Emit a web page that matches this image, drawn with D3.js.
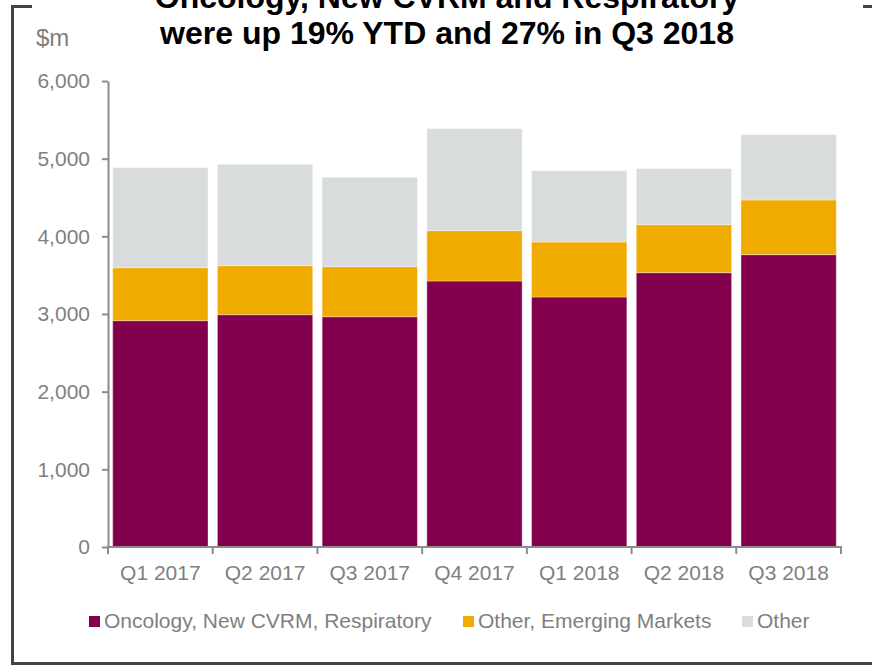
<!DOCTYPE html>
<html>
<head>
<meta charset="utf-8">
<script src="https://cdn.jsdelivr.net/npm/d3@7"></script>
<style>
  html, body { margin: 0; padding: 0; background: #fff; }
  svg { display: block; font-family: "Liberation Sans", Arial, sans-serif; }
</style>
</head>
<body>
<svg id="chart" width="872" height="665"></svg>
<script>
// Quarterly sales ($m), stacked by group
const quarters = ["Q1 2017", "Q2 2017", "Q3 2017", "Q4 2017", "Q1 2018", "Q2 2018", "Q3 2018"];
const oncologyCvrmResp = [2914, 2991, 2965, 3425, 3219, 3532, 3764];
const otherEmerging    = [682, 631, 644, 648, 708, 618, 704];
const otherSales       = [1288, 1305, 1151, 1313, 918, 721, 841];
const yTicks = [0, 1000, 2000, 3000, 4000, 5000, 6000];

const seriesNames = ["Oncology, New CVRM, Respiratory", "Other, Emerging Markets", "Other"];
const seriesColors = ["#82004e", "#f0ab00", "#d8dcdd"];

const titleLines = ["Oncology, New CVRM and Respiratory", "were up 19% YTD and 27% in Q3 2018"];

const svg = d3.select("#chart");
const textGrey = "#7f7f7f";
const axisGrey = "#8c8c8c";
const frameColor = "#3d4443";

// Table rows for the stack layout
const rows = quarters.map((q, i) => ({
  quarter: q,
  s0: oncologyCvrmResp[i],
  s1: otherEmerging[i],
  s2: otherSales[i]
}));
const stack = d3.stack().keys(["s0", "s1", "s2"]);
const layers = stack(rows);

const x = d3.scaleBand()
  .domain(quarters)
  .range([108, 841])
  .paddingInner(0.09)
  .paddingOuter(0.045);

const y = d3.scaleLinear().domain([0, 6000]).range([547, 81]);

// Outer frame
svg.append("rect").attr("x", 11).attr("y", 5).attr("width", 3).attr("height", 660).attr("fill", frameColor);
svg.append("rect").attr("x", 11).attr("y", 5).attr("width", 21).attr("height", 3).attr("fill", frameColor);
svg.append("rect").attr("x", 863).attr("y", 5).attr("width", 9).attr("height", 3).attr("fill", frameColor);
svg.append("rect").attr("x", 11).attr("y", 662).attr("width", 861).attr("height", 3).attr("fill", frameColor);

// Title
const title = svg.append("text")
  .attr("text-anchor", "middle")
  .attr("font-weight", "bold")
  .attr("font-size", 32)
  .attr("fill", "#000");
title.selectAll("tspan")
  .data(titleLines)
  .join("tspan")
  .attr("x", 447)
  .attr("y", (d, i) => 8 + i * 36)
  .text(d => d);

// Unit label
svg.append("text")
  .attr("x", 36).attr("y", 46)
  .attr("font-size", 24)
  .attr("fill", textGrey)
  .text("$m");

// Bars
svg.append("g")
  .selectAll("g")
  .data(layers)
  .join("g")
  .attr("fill", (d, i) => seriesColors[i])
  .selectAll("rect")
  .data(d => d)
  .join("rect")
  .attr("x", d => x(d.data.quarter))
  .attr("width", x.bandwidth())
  .attr("y", d => y(d[1]))
  .attr("height", d => y(d[0]) - y(d[1]))
  .attr("stroke", "#ffffff")
  .attr("stroke-opacity", 0.35)
  .attr("stroke-width", 1);

// Y axis
const yAxis = svg.append("g")
  .attr("transform", "translate(108,0)")
  .call(d3.axisLeft(y).tickValues(yTicks).tickSize(6).tickSizeOuter(0).tickPadding(12).tickFormat(d3.format(",")));
yAxis.select(".domain").attr("stroke", axisGrey).attr("stroke-width", 2);
yAxis.selectAll(".tick line").attr("stroke", axisGrey).attr("stroke-width", 2);
yAxis.selectAll(".tick text")
  .attr("font-size", 21)
  .attr("font-family", "Liberation Sans, Arial, sans-serif")
  .attr("fill", textGrey);

// X axis: baseline with ticks between categories
const xAxis = svg.append("g");
const step = x.step();
const bounds = quarters.map(q => x(q) - step * x.paddingInner() / 2);
bounds.push(x(quarters[quarters.length - 1]) + x.bandwidth() + step * x.paddingInner() / 2);
xAxis.append("line")
  .attr("x1", 107).attr("x2", bounds[bounds.length - 1] + 1)
  .attr("y1", y(0)).attr("y2", y(0))
  .attr("stroke", axisGrey).attr("stroke-width", 2);
xAxis.selectAll("line.tk")
  .data(bounds)
  .join("line")
  .attr("class", "tk")
  .attr("x1", d => d).attr("x2", d => d)
  .attr("y1", y(0)).attr("y2", y(0) + 7)
  .attr("stroke", axisGrey).attr("stroke-width", 2);
xAxis.selectAll("text")
  .data(quarters)
  .join("text")
  .attr("x", d => x(d) + x.bandwidth() / 2)
  .attr("y", 580)
  .attr("text-anchor", "middle")
  .attr("font-size", 21)
  .attr("fill", textGrey)
  .text(d => d);

// Legend
const legendX = [89, 463, 742];
const legend = svg.append("g");
const items = legend.selectAll("g")
  .data(seriesNames)
  .join("g")
  .attr("transform", (d, i) => `translate(${legendX[i]},616)`);
items.append("rect")
  .attr("width", 11).attr("height", 11)
  .attr("fill", (d, i) => seriesColors[i]);
items.append("text")
  .attr("x", 15).attr("y", 12)
  .attr("font-size", 21)
  .attr("fill", textGrey)
  .text(d => d);
</script>
</body>
</html>
